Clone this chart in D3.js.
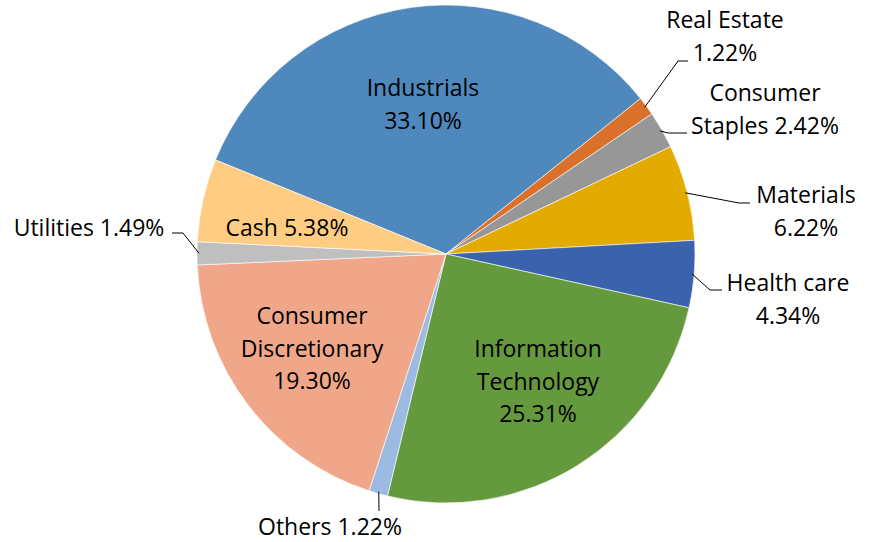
<!DOCTYPE html>
<html>
<head>
<meta charset="utf-8">
<script src="https://cdn.jsdelivr.net/npm/d3@7"></script>
<style>
  html, body { margin: 0; padding: 0; background: #fff; }
  svg { display: block; }
</style>
</head>
<body>
<div id="chart"></div>
<script>
// 行业配置饼图 · 从 Industrials 开始顺时针
const categories = ["Industrials", "Real Estate", "Consumer Staples", "Materials", "Health care",
  "Information Technology", "Others", "Consumer Discretionary", "Utilities", "Cash"];
const values = [33.10, 1.22, 2.42, 6.22, 4.34, 25.31, 1.22, 19.30, 1.49, 5.38];
const colors = ["#4f88bd", "#d9712b", "#979797", "#e3aa00", "#3b63ad",
  "#65993e", "#9dbbe2", "#f0a789", "#bfbfbf", "#fecd83"];

// 标签布局（文字行 + 中心位置 + 引线拐点）
const labelLayout = {
  "Industrials": { lines: ["Industrials", "33.10%"], x: 423, y: 88 },
  "Real Estate": { lines: ["Real Estate", "1.22%"], x: 725, y: 20, leader: [[678, 61], [688, 61]] },
  "Consumer Staples": { lines: ["Consumer", "Staples 2.42%"], x: 765, y: 93, leader: [[668, 133], [687, 133]] },
  "Materials": { lines: ["Materials", "6.22%"], x: 806, y: 195, leader: [[739, 203], [750, 203]] },
  "Health care": { lines: ["Health care", "4.34%"], x: 788, y: 283, leader: [[710, 290], [722, 290]] },
  "Information Technology": { lines: ["Information", "Technology", "25.31%"], x: 538, y: 349 },
  "Others": { lines: ["Others 1.22%"], x: 330, y: 527, leader: [[379, 511]] },
  "Consumer Discretionary": { lines: ["Consumer", "Discretionary", "19.30%"], x: 312, y: 316 },
  "Utilities": { lines: ["Utilities 1.49%"], x: 89, y: 228, leader: [[183, 233], [172, 233]] },
  "Cash": { lines: ["Cash 5.38%"], x: 287, y: 228 },
};

const W = 875, H = 542, CX = 446, CY = 254, R = 249, LH = 32.5;
const FONT = "'Open Sans', Lato, sans-serif";
const START = -67.8 * Math.PI / 180;

const svg = d3.select("#chart").append("svg").attr("width", W).attr("height", H);
const g = svg.append("g").attr("transform", `translate(${CX},${CY})`);

const data = categories.map((c, i) => ({ name: c, value: values[i], color: colors[i] }));
const pie = d3.pie().value(d => d.value).sort(null).startAngle(START).endAngle(START + 2 * Math.PI);
const arc = d3.arc().innerRadius(0).outerRadius(R);
const arcs = pie(data);

g.selectAll("path.slice").data(arcs).join("path")
  .attr("class", "slice")
  .attr("d", arc)
  .attr("fill", d => d.data.color)
  .attr("stroke", "#fff").attr("stroke-width", 0.6);

// 引线：从扇区外缘中点出发
arcs.forEach(a => {
  const L = labelLayout[a.data.name];
  if (!L.leader) return;
  const mid = (a.startAngle + a.endAngle) / 2;
  const p0 = [CX + Math.sin(mid) * (R - 2), CY - Math.cos(mid) * (R - 2)];
  const pts = [p0, ...L.leader];
  svg.append("path")
    .attr("d", d3.line()(pts))
    .attr("fill", "none").attr("stroke", "#000").attr("stroke-width", 1);
});

// 文字
arcs.forEach(a => {
  const L = labelLayout[a.data.name];
  const t = svg.append("text")
    .attr("text-anchor", "middle")
    .attr("style", `font:23px ${FONT};fill:#000`);
  L.lines.forEach((s, i) => {
    t.append("tspan").attr("x", L.x).attr("y", L.y + i * LH).attr("dy", "0.35em").text(s);
  });
});
</script>
</body>
</html>
